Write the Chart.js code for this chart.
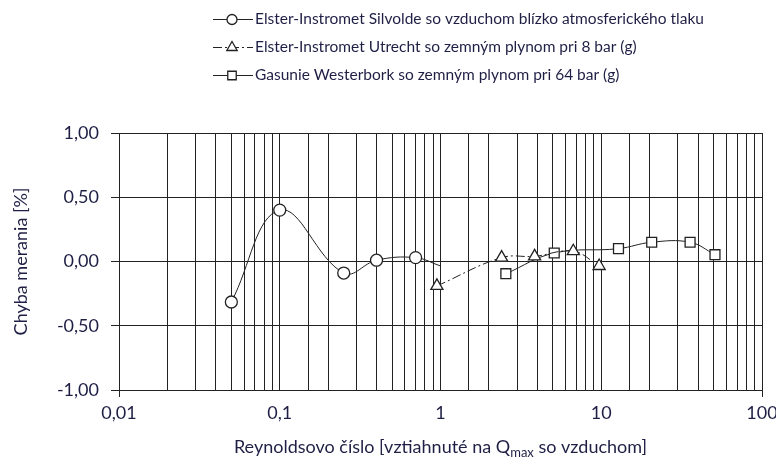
<!DOCTYPE html>
<html><head><meta charset="utf-8">
<script src="https://cdn.jsdelivr.net/npm/chart.js@4/dist/chart.umd.min.js"></script>
<style>html,body{margin:0;padding:0;background:#fff}#wrap{width:776px;height:461px;position:relative}</style>
</head><body><div id="wrap"><canvas id="c"></canvas></div>
<script>
const seriesNames = [
  'Elster-Instromet Silvolde so vzduchom blízko atmosferického tlaku',
  'Elster-Instromet Utrecht so zemným plynom pri 8 bar (g)',
  'Gasunie Westerbork so zemným plynom pri 64 bar (g)'
];
const silvoldeX = [0.05, 0.1, 0.25, 0.4, 0.7, 1.0];
const silvoldeY = [-0.315, 0.40, -0.09, 0.01, 0.03, -0.035];
const silvoldeMarker = [true, true, true, true, true, false];
const utrechtX = [0.95, 2.4, 3.85, 6.7, 9.7];
const utrechtY = [-0.19, 0.03, 0.04, 0.08, -0.035];
const westerborkX = [2.55, 5.1, 12.8, 20.6, 35.7, 51];
const westerborkY = [-0.095, 0.066, 0.10, 0.15, 0.15, 0.053];
const yTickValues = [-1, -0.5, 0, 0.5, 1];
const xMajorTicks = [0.01, 0.1, 1, 10, 100];
const yTitle = 'Chyba merania [%]';
const xTitleParts = ['Reynoldsovo číslo [vztiahnuté na Q', 'max', ' so vzduchom]'];

const FONT = 'Lato';
const TXT = '#1f1f45';
const INK = '#222';

function pts(xs, ys) { return xs.map((x, i) => ({x: x, y: ys[i]})); }

const styles = [
  {pointStyle: 'circle', radius: 6, dash: []},
  {pointStyle: 'triangle', radius: 7, dash: [9, 3, 2, 3]},
  {pointStyle: 'rect', radius: 7, dash: []}
];

const datasets = [
  {label: seriesNames[0], data: pts(silvoldeX, silvoldeY),
   pointRadius: silvoldeMarker.map(m => m ? styles[0].radius : 0)},
  {label: seriesNames[1], data: pts(utrechtX, utrechtY), pointRadius: styles[1].radius},
  {label: seriesNames[2], data: pts(westerborkX, westerborkY), pointRadius: styles[2].radius}
].map((d, i) => Object.assign(d, {
  showLine: true,
  tension: 0.4,
  borderColor: INK,
  borderWidth: 1,
  borderDash: styles[i].dash,
  pointStyle: styles[i].pointStyle,
  pointBackgroundColor: '#fff',
  pointBorderColor: INK,
  pointBorderWidth: 1.3,
  pointHoverRadius: 0
}));

function isMajor(v) {
  const l = Math.log10(v);
  return Math.abs(l - Math.round(l)) < 1e-6;
}
function fmtComma(v, digits) {
  return v.toFixed(digits).replace('.', ',');
}

const legendPlugin = {
  id: 'customLegend',
  afterDraw(chart) {
    const ctx = chart.ctx;
    ctx.save();
    const rows = [19, 47, 75];
    seriesNames.forEach((name, i) => {
      const y = rows[i];
      ctx.strokeStyle = INK;
      ctx.lineWidth = 1;
      ctx.setLineDash(styles[i].dash);
      ctx.beginPath();
      ctx.moveTo(213, y + 0.5);
      ctx.lineTo(253, y + 0.5);
      ctx.stroke();
      ctx.setLineDash([]);
      ctx.fillStyle = '#fff';
      ctx.lineWidth = 1.3;
      Chart.helpers.drawPoint(ctx, {pointStyle: styles[i].pointStyle, radius: styles[i].radius - 1, borderWidth: 1.3, rotation: 0}, 232, y + 0.5);
      ctx.fillStyle = TXT;
      ctx.font = '15.5px ' + FONT;
      ctx.textBaseline = 'middle';
      ctx.textAlign = 'left';
      ctx.fillText(name, 255, y);
    });
    // x axis title with subscript
    const big = '18px ' + FONT, small = '13px ' + FONT;
    ctx.font = big; const w1 = ctx.measureText(xTitleParts[0]).width; const w3 = ctx.measureText(xTitleParts[2]).width;
    ctx.font = small; const w2 = ctx.measureText(xTitleParts[1]).width;
    const total = w1 + w2 + w3;
    const cx = (chart.chartArea.left + chart.chartArea.right) / 2;
    let x = cx - total / 2;
    const base = 453;
    ctx.textBaseline = 'alphabetic';
    ctx.fillStyle = TXT;
    ctx.font = big; ctx.fillText(xTitleParts[0], x, base); x += w1;
    ctx.font = small; ctx.fillText(xTitleParts[1], x, base + 4); x += w2;
    ctx.font = big; ctx.fillText(xTitleParts[2], x, base);
    ctx.restore();
  }
};

new Chart(document.getElementById('c'), {
  type: 'scatter',
  data: {datasets: datasets},
  options: {
    responsive: true,
    maintainAspectRatio: false,
    animation: false,
    events: [],
    layout: {padding: {top: 133, right: 14, left: 0, bottom: 0}},
    plugins: {legend: {display: false}, tooltip: {enabled: false}},
    scales: {
      x: {
        type: 'logarithmic',
        min: 0.01, max: 100,
        afterFit(s) { s.height = 71; s.paddingLeft = 0; s.paddingRight = 0; },
        border: {color: INK, width: 1},
        grid: {
          color: INK, lineWidth: 1, drawTicks: true, tickLength: 7,
          tickColor: (c) => (c.tick && (c.tick.value <= 0.0100001 || c.tick.value >= 99.999)) ? INK : 'rgba(0,0,0,0)'
        },
        ticks: {
          autoSkip: false, maxRotation: 0, padding: 5,
          color: TXT, font: {family: FONT, size: 18},
          callback(v) {
            if (!isMajor(v)) return '';
            const m = xMajorTicks.find(t => Math.abs(t - v) / t < 1e-6);
            return String(m).replace('.', ',');
          }
        }
      },
      y: {
        min: -1, max: 1,
        afterFit(s) { s.width = 119; s.paddingTop = 0; s.paddingBottom = 0; },
        afterBuildTicks(s) { s.ticks = yTickValues.map(v => ({value: v})); },
        border: {color: INK, width: 1},
        grid: {color: INK, lineWidth: 1, drawTicks: true, tickLength: 8, tickColor: INK},
        ticks: {
          padding: 12, color: TXT, font: {family: FONT, size: 18},
          callback(v) { return fmtComma(v, 2); }
        },
        title: {display: true, text: yTitle, color: TXT, font: {family: FONT, size: 18}, padding: {top: 10, bottom: 0}}
      }
    }
  },
  plugins: [legendPlugin]
});
</script>
</body></html>
